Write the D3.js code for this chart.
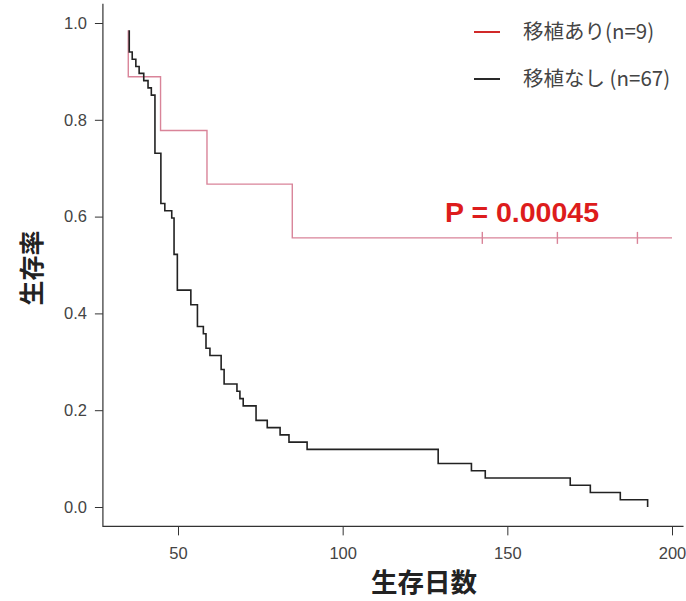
<!DOCTYPE html>
<html>
<head>
<meta charset="utf-8">
<script src="https://cdn.jsdelivr.net/npm/d3@7"></script>
<style>
  body { margin: 0; background: #fff; }
  svg { display: block; }
  .tick text { font-family: "Liberation Sans", Arial, sans-serif; }
</style>
</head>
<body>
<div class="chart"></div>
<script>
// survival curves: start point, then step times / survival after each step
var blackStart = [35.2, 0.985];
var blackTimes = [35.2, 36.1, 37.2, 38.2, 39.6, 40.9, 41.9, 43.0, 44.8, 46.0, 48.1, 48.8, 49.8, 53.9, 55.9, 57.7, 58.5, 59.7,
    63.1, 64.0, 67.9, 68.8, 69.8, 73.7, 77.1, 81.0, 83.7, 89.2, 129.0, 139.1, 143.3, 169.1, 175.2, 184.3, 192.6];
var blackSurv = [0.940, 0.925, 0.910, 0.896, 0.881, 0.866, 0.851, 0.731, 0.627, 0.612, 0.597, 0.522, 0.448, 0.418, 0.373, 0.358, 0.328, 0.313,
    0.284, 0.254, 0.239, 0.224, 0.209, 0.179, 0.164, 0.149, 0.134, 0.119, 0.090, 0.075, 0.060, 0.045, 0.030, 0.015, 0.0];

var redStart = [34.9, 0.985];
var redTimes = [34.9, 44.7, 58.8, 84.7];
var redSurv = [0.889, 0.778, 0.667, 0.556];
var redEnd = 200;
var redCensor = [142.4, 165.2, 189.5];

var xTicks = [50, 100, 150, 200];
var yTicks = [0, 0.2, 0.4, 0.6, 0.8, 1.0];
var legendLabels = ["移植あり(n=9)", "移植なし (n=67)"];
var pText = "P = 0.00045";

var width = 686, height = 601;

var svg = d3.select(".chart").append("svg")
    .attr("width", width)
    .attr("height", height);

const xScale = d3.scaleLinear().domain([50, 200]).range([178, 672]);
const yScale = d3.scaleLinear().domain([0, 1]).range([507, 23]);

const plotLeft = xScale(27.2), plotRight = xScale(203.5);
const plotTop = yScale(1.04), plotBottom = yScale(-0.04);

// axes (L-shaped box like R's bty="l")
const xAxis = d3.axisBottom(xScale).tickValues(xTicks).tickSize(9).tickPadding(12).tickFormat(d3.format("d"));
svg.append("g")
    .attr("class", "axis x-axis")
    .attr("transform", `translate(0, ${plotBottom})`)
    .call(xAxis)
    .call(g => g.select(".domain").remove());

const yAxis = d3.axisLeft(yScale).tickValues(yTicks).tickSize(8).tickPadding(8).tickFormat(d3.format(".1f"));
svg.append("g")
    .attr("class", "axis y-axis")
    .attr("transform", `translate(${plotLeft}, 0)`)
    .call(yAxis)
    .call(g => g.select(".domain").remove());

svg.selectAll(".tick line").attr("stroke", "#333");
svg.selectAll(".tick text").attr("fill", "#444").style("font-size", "16.5px");

svg.append("path")
    .attr("d", `M${plotLeft},${plotTop}V${plotBottom}H${plotRight}`)
    .attr("fill", "none")
    .attr("stroke", "#333")
    .attr("stroke-width", 1.2);

// curves
const line = d3.line()
    .x(d => xScale(d[0]))
    .y(d => yScale(d[1]))
    .curve(d3.curveStepAfter);

const redPts = [redStart].concat(redTimes.map((t, i) => [t, redSurv[i]]), [[redEnd, redSurv[redSurv.length - 1]]]);
svg.append("path")
    .attr("d", line(redPts))
    .attr("fill", "none")
    .attr("stroke", "#d98499")
    .attr("stroke-width", 1.4);

svg.selectAll(".censor")
    .data(redCensor)
    .enter().append("line")
    .attr("class", "censor")
    .attr("x1", d => xScale(d)).attr("x2", d => xScale(d))
    .attr("y1", yScale(redSurv[redSurv.length - 1]) - 6)
    .attr("y2", yScale(redSurv[redSurv.length - 1]) + 6)
    .attr("stroke", "#d98499")
    .attr("stroke-width", 1.4);

const blackPts = [blackStart].concat(blackTimes.map((t, i) => [t, blackSurv[i]]));
svg.append("path")
    .attr("d", line(blackPts))
    .attr("fill", "none")
    .attr("stroke", "#222")
    .attr("stroke-width", 1.6);

// legend
const legendColors = ["#cc1111", "#111"];
const legend = svg.selectAll(".legend")
    .data(legendLabels)
    .enter().append("g")
    .attr("class", "legend")
    .attr("transform", (d, i) => `translate(474, ${32 + i * 47})`);

legend.append("line")
    .attr("x1", 0).attr("x2", 26)
    .attr("stroke", (d, i) => legendColors[i])
    .attr("stroke-width", 1.8);

legend.append("text")
    .attr("x", 49)
    .attr("dy", "0.35em")
    .attr("fill", "#444")
    .style("font-family", "'Noto Sans CJK JP', sans-serif")
    .style("font-size", "20.5px")
    .text(d => d);

// p value
svg.append("text")
    .attr("x", 445)
    .attr("y", 222)
    .attr("fill", "#dd1c1c")
    .style("font-family", "'Liberation Sans', Arial, sans-serif")
    .style("font-weight", "bold")
    .style("font-size", "28.5px")
    .text(pText);

// axis titles
svg.append("text")
    .attr("x", 424)
    .attr("y", 592)
    .attr("text-anchor", "middle")
    .attr("fill", "#222")
    .style("font-family", "'Noto Sans CJK JP', sans-serif")
    .style("font-weight", "bold")
    .style("font-size", "26.5px")
    .text("生存日数");

svg.append("text")
    .attr("transform", "translate(41, 268) rotate(-90)")
    .attr("text-anchor", "middle")
    .attr("fill", "#222")
    .style("font-family", "'Noto Sans CJK JP', sans-serif")
    .style("font-weight", "bold")
    .style("font-size", "25px")
    .text("生存率");
</script>
</body>
</html>
